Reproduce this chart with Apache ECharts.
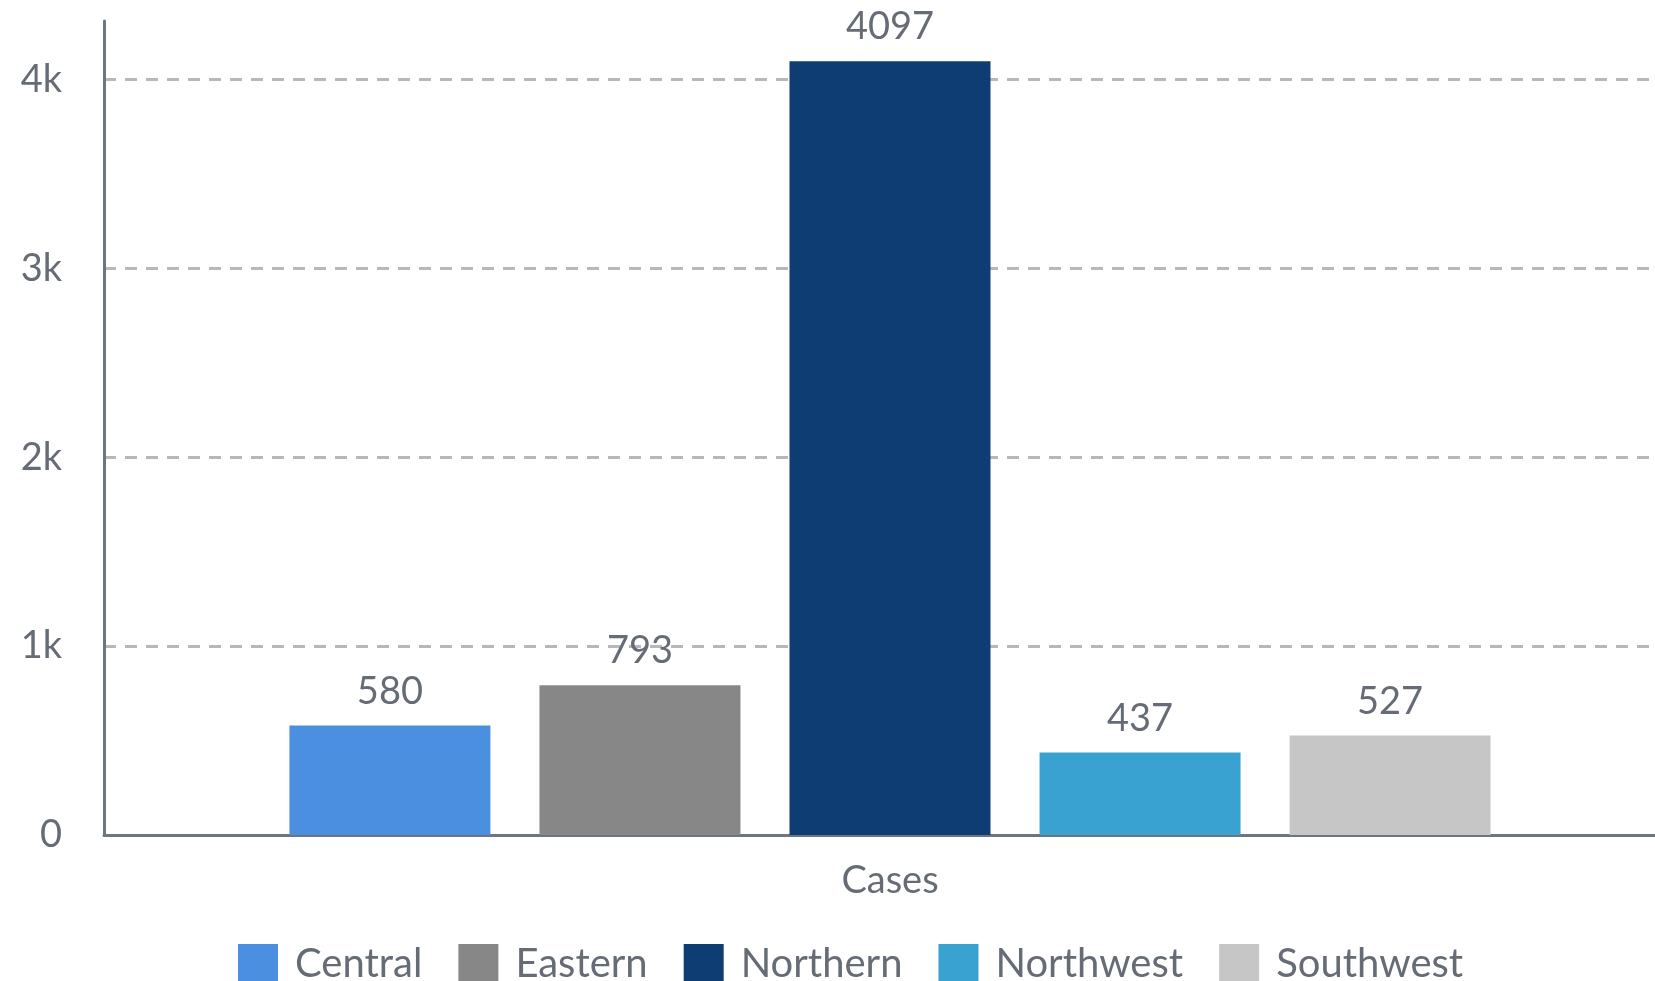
<!DOCTYPE html>
<html>
<head>
<meta charset="utf-8">
<script src="https://cdn.jsdelivr.net/npm/echarts@6/dist/echarts.min.js"></script>
<style>
html,body{margin:0;padding:0;background:#fff;overflow:hidden;}
#myChart{width:1698px;height:981px;}
</style>
</head>
<body>
<div id="myChart"></div>
<script type='text/javascript'>
//数据
var categories = ['Cases'];
var regions = ['Central', 'Eastern', 'Northern', 'Northwest', 'Southwest'];
var cases = [580, 793, 4097, 437, 527];
var colors = ['#4a8fe0', '#878787', '#0e3d74', '#39a2d0', '#c6c6c6'];
var yTicks = [0, 1000, 2000, 3000, 4000];
var yMax = 4310;

var textColor = '#666c75';
var axisColor = '#6e757d';

var series = regions.map(function (name, i) {
	return {
		name: name,
		type: 'bar',
		data: [cases[i]],
		barWidth: 201,
		barGap: '24.4%',
		itemStyle: { color: colors[i] },
		label: {
			show: true,
			position: 'top',
			distance: 15,
			color: textColor,
			fontFamily: 'Lato',
			fontSize: 38
		}
	};
});

var option = {
	animation: false,
	grid:
	{
		left: 104,
		right: 22,
		top: 21,
		bottom: 146,
		containLabel: false
	},
	legend:
	{
		data: regions,
		left: 238,
		top: 944,
		padding: 0,
		itemWidth: 40,
		itemHeight: 40,
		itemGap: 36,
		icon: 'rect',
		textStyle:
		{
			color: textColor,
			fontFamily: 'Lato',
			fontSize: 40,
			padding: [0, 0, 0, 12]
		}
	},
	xAxis:
	{
		type: 'category',
		data: categories,
		axisLine: { lineStyle: { color: axisColor, width: 3 } },
		axisTick: { show: false },
		axisLabel:
		{
			color: textColor,
			fontFamily: 'Lato',
			fontSize: 38,
			margin: 27
		}
	},
	yAxis:
	{
		type: 'value',
		min: 0,
		max: yMax,
		interval: 1000,
		axisLine: { show: true, lineStyle: { color: axisColor, width: 3 } },
		axisTick: { show: false },
		axisLabel:
		{
			showMaxLabel: false,
			color: textColor,
			fontFamily: 'Lato',
			fontSize: 38,
			margin: 42,
			formatter: function (v) {
				if (yTicks.indexOf(v) < 0) return '';
				return v === 0 ? '0' : (v / 1000) + 'k';
			}
		},
		splitLine:
		{
			show: true,
			showMinLine: false,
			showMaxLine: false,
			lineStyle: { color: '#b5b8bc', width: 3, type: [12, 9] }
		}
	},
	series: series
};
echarts.init(document.getElementById('myChart')).setOption(option);
</script>
</body>
</html>
